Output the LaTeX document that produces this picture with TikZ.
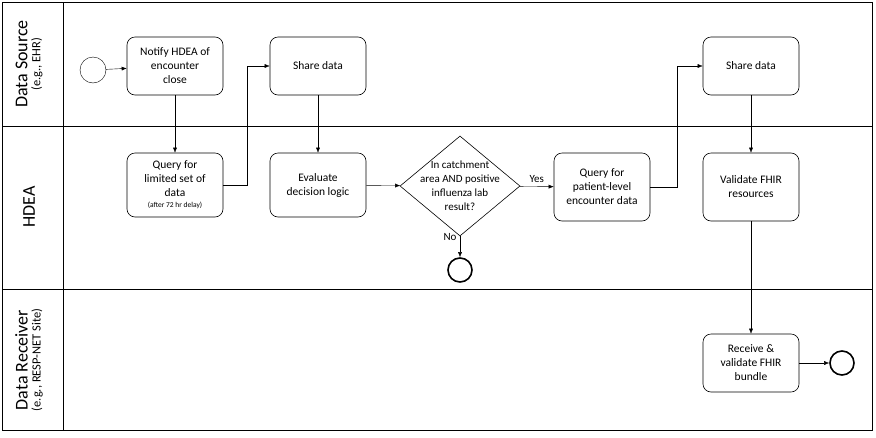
\documentclass[tikz,border=0pt]{standalone}
\usepackage{fontspec}
\setmainfont{Carlito}
\usetikzlibrary{shapes.geometric,arrows.meta}
\tikzset{
  task/.style={draw=black, semithick, rounded corners=8pt, minimum width=96pt, minimum height=58pt, align=center, font=\fontsize{11.5}{14}\selectfont},
  flow/.style={-{Latex[length=5pt,width=4pt]}, thin},
  lane/.style={rotate=90, align=center}
}
\begin{document}
\begin{tikzpicture}[x=1pt, y=-1pt]
\useasboundingbox (0,0) rectangle (876,437);
\draw[semithick] (2,2) rectangle (872,430);
\draw[semithick] (63,2) -- (63,430);
\draw[semithick] (2,126) -- (872,126);
\draw[semithick] (2,289) -- (872,289);
\node[lane] (L1) at (29,64) {\fontsize{18}{20}\selectfont Data Source\\[1pt]\fontsize{12.5}{14}\selectfont (e.g., EHR)};
\node[lane] (L2) at (29,207) {\fontsize{18}{20}\selectfont HDEA};
\node[lane] (L3) at (29,360) {\fontsize{18}{20}\selectfont Data Receiver\\[1pt]\fontsize{12.5}{14}\selectfont (e.g., RESP-NET Site)};
\node[draw, thin, circle, minimum size=26pt] (S) at (93,70) {};
\node[task] (N) at (175,66) {Notify HDEA of\\encounter\\close};
\node[task] (SD1) at (318,66) {Share data};
\node[task, minimum height=64pt] (Q1) at (175,185) {Query for\\limited set of\\data\\[-3pt]{\fontsize{7.5}{9}\selectfont (after 72 hr delay)}};
\node[task, minimum height=64pt] (E) at (318,185) {Evaluate\\decision logic};
\node[draw, semithick, diamond, aspect=1.2, minimum width=120pt, minimum height=100pt, inner sep=-6pt, align=center, font=\fontsize{11}{14}\selectfont] (D) at (460,186) {In catchment\\area AND positive\\influenza lab\\result?};
\node[task, minimum height=68pt] (Q2) at (602,187) {Query for\\patient-level\\encounter data};
\node[task] (SD2) at (751,66) {Share data};
\node[task, minimum height=68pt] (V) at (751,187) {Validate FHIR\\resources};
\node[task] (R) at (751,363) {Receive \&\\validate FHIR\\bundle};
\node[draw, ultra thick, circle, minimum size=24pt] (X1) at (460,270) {};
\node[draw, ultra thick, circle, minimum size=24pt] (X2) at (842,363) {};
\draw[flow] (S) -- (N);
\draw[flow] (N) -- (Q1);
\draw[flow] (Q1.east) -- (247,185) |- (SD1.west);
\draw[flow] (SD1) -- (E);
\draw[flow] (E) -- (D);
\draw[flow] (D) -- node[above, font=\fontsize{11}{13}\selectfont] {Yes} (Q2);
\draw[flow] (Q2.east) -- (677,187) |- (SD2.west);
\draw[flow] (SD2) -- (V);
\draw[flow] (V) -- (R);
\draw[flow] (R) -- (X2);
\draw[flow] (D.south) -- node[pos=0.05, left, font=\fontsize{11}{13}\selectfont] {No} (X1);
\end{tikzpicture}
\end{document}
